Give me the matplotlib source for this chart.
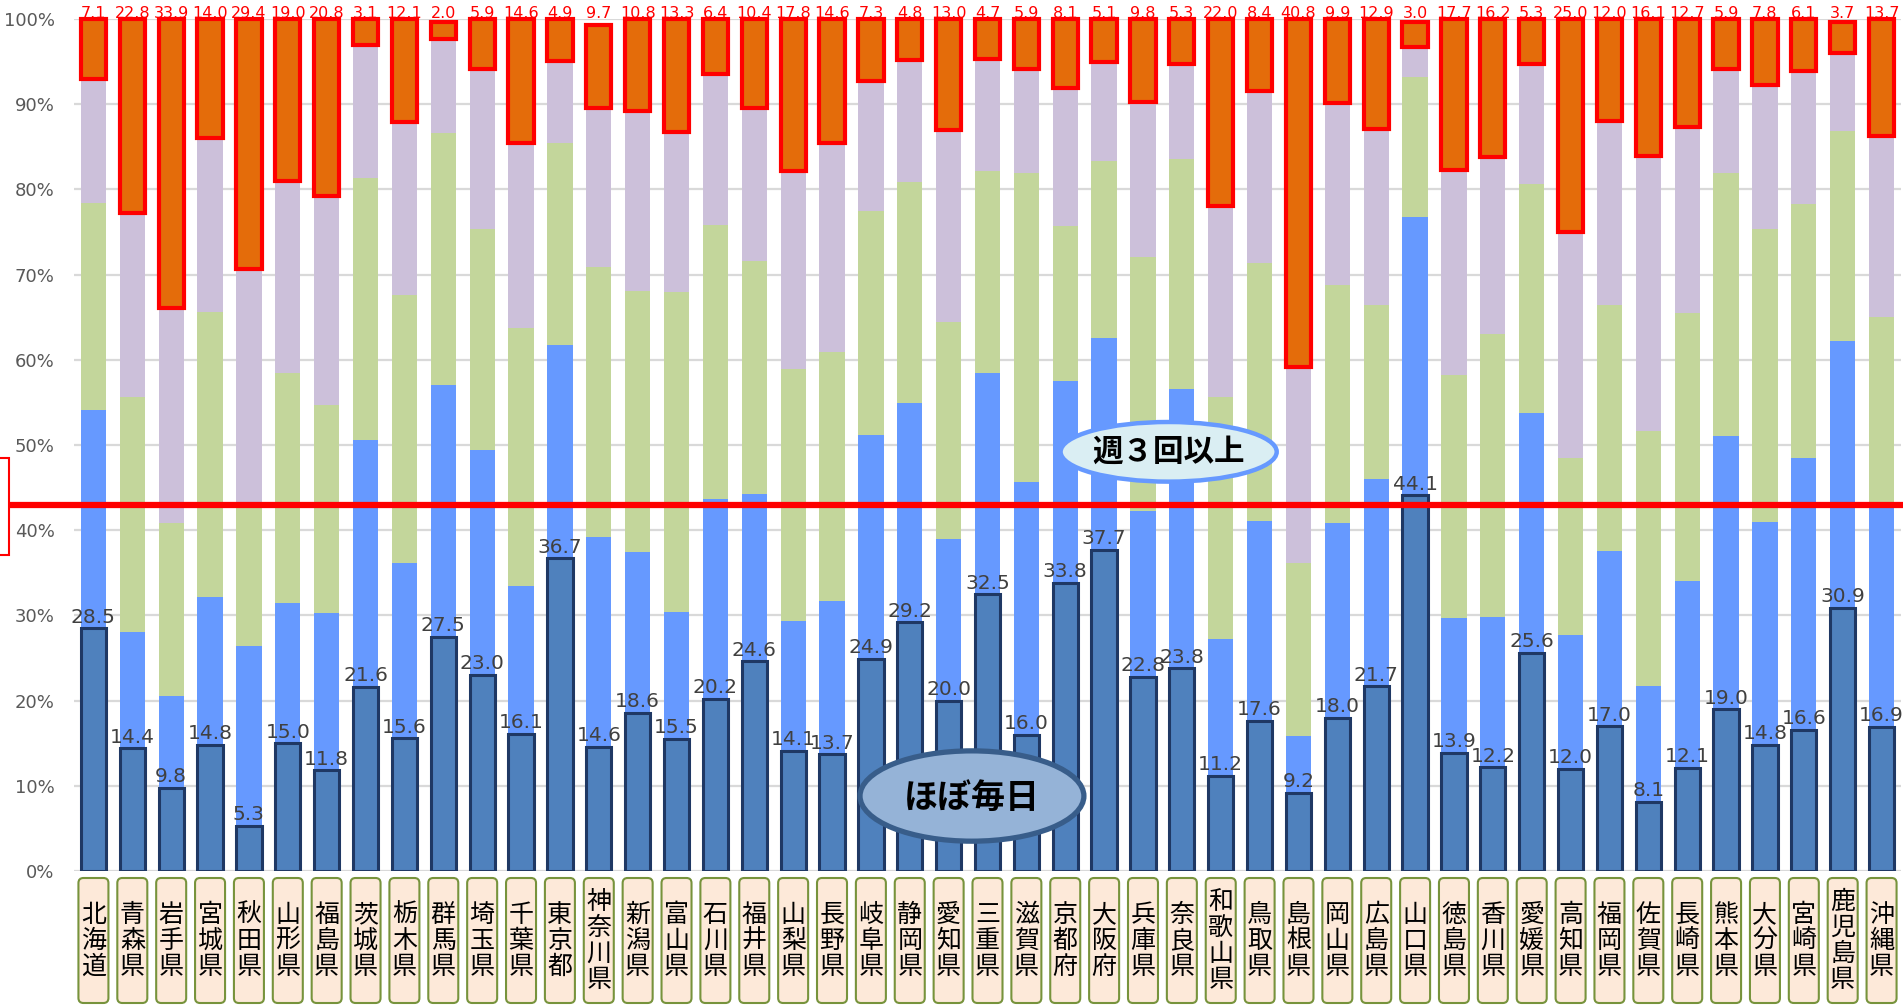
import matplotlib
matplotlib.use('Agg')
import matplotlib.pyplot as plt
from matplotlib.patches import FancyBboxPatch, Ellipse, Rectangle
from matplotlib.transforms import IdentityTransform, blended_transform_factory
import numpy as np

prefectures = ['北海道', '青森県', '岩手県', '宮城県', '秋田県', '山形県', '福島県', '茨城県', '栃木県', '群馬県',
               '埼玉県', '千葉県', '東京都', '神奈川県', '新潟県', '富山県', '石川県', '福井県', '山梨県', '長野県',
               '岐阜県', '静岡県', '愛知県', '三重県', '滋賀県', '京都府', '大阪府', '兵庫県', '奈良県', '和歌山県',
               '鳥取県', '島根県', '岡山県', '広島県', '山口県', '徳島県', '香川県', '愛媛県', '高知県', '福岡県',
               '佐賀県', '長崎県', '熊本県', '大分県', '宮崎県', '鹿児島県', '沖縄県']

# ほぼ毎日
daily = [28.5, 14.4, 9.8, 14.8, 5.3, 15.0, 11.8, 21.6, 15.6, 27.5,
         23.0, 16.1, 36.7, 14.6, 18.6, 15.5, 20.2, 24.6, 14.1, 13.7,
         24.9, 29.2, 20.0, 32.5, 16.0, 33.8, 37.7, 22.8, 23.8, 11.2,
         17.6, 9.2, 18.0, 21.7, 44.1, 13.9, 12.2, 25.6, 12.0, 17.0,
         8.1, 12.1, 19.0, 14.8, 16.6, 30.9, 16.9]
# 週3～4回程度 (estimated)
week34 = [25.6, 13.6, 10.7, 17.4, 21.1, 16.4, 18.5, 29.0, 20.5, 29.5,
          26.4, 17.4, 25.0, 24.6, 18.8, 14.9, 23.5, 19.6, 15.2, 18.0,
          26.3, 25.7, 19.0, 26.0, 29.6, 23.7, 24.9, 19.5, 32.8, 16.0,
          23.5, 6.6, 22.9, 24.3, 32.7, 15.8, 17.6, 28.2, 15.7, 20.6,
          13.6, 21.9, 32.1, 26.2, 31.9, 31.3, 25.9]
# 週1～2回程度 (estimated)
week12 = [24.3, 27.6, 20.4, 33.4, 16.6, 27.0, 24.4, 30.7, 31.5, 29.6,
          26.0, 30.2, 23.8, 31.7, 30.7, 37.6, 32.1, 27.4, 29.6, 29.2,
          26.3, 26.0, 25.4, 23.7, 36.3, 18.2, 20.7, 29.8, 27.0, 28.4,
          30.3, 20.4, 27.9, 20.4, 16.4, 28.5, 33.2, 26.8, 20.8, 28.8,
          29.9, 31.5, 30.8, 34.4, 29.8, 24.6, 22.2]
# 月に数回程度 (estimated)
monthly = [14.5, 21.6, 25.2, 20.4, 27.6, 22.6, 24.5, 15.6, 20.3, 11.0,
           18.7, 21.7, 9.6, 18.7, 21.1, 18.7, 17.8, 18.0, 23.3, 24.5,
           15.2, 14.3, 22.6, 13.1, 12.2, 16.2, 11.6, 18.1, 11.1, 22.4,
           20.2, 23.0, 21.3, 20.7, 3.5, 24.1, 20.8, 14.1, 26.5, 21.6,
           32.3, 21.8, 12.2, 16.8, 15.6, 9.2, 21.3]
# ほとんどない
rarely = [7.1, 22.8, 33.9, 14.0, 29.4, 19.0, 20.8, 3.1, 12.1, 2.0,
          5.9, 14.6, 4.9, 9.7, 10.8, 13.3, 6.4, 10.4, 17.8, 14.6,
          7.3, 4.8, 13.0, 4.7, 5.9, 8.1, 5.1, 9.8, 5.3, 22.0,
          8.4, 40.8, 9.9, 12.9, 3.0, 17.7, 16.2, 5.3, 25.0, 12.0,
          16.1, 12.7, 5.9, 7.8, 6.1, 3.7, 13.7]

avg_line = 43.0
ytick_vals = list(range(0, 101, 10))
ytick_labels = [f'{v}%' for v in ytick_vals]

W_PX, H_PX = 1903, 1005
fig = plt.figure(figsize=(W_PX / 100, H_PX / 100), dpi=100)
fig.patch.set_facecolor('white')
ax = fig.add_axes([74 / W_PX, 1 - 871 / H_PX, 1827 / W_PX, 852 / H_PX])

x = np.arange(len(prefectures))
d = np.array(daily); w34 = np.array(week34); w12 = np.array(week12)
m = np.array(monthly); r = np.array(rarely)
bw = 0.65

ax.bar(x, w34, bw, bottom=d, color='#6699FF', zorder=2)
ax.bar(x, w12, bw, bottom=d + w34, color='#C3D69B', zorder=2)
ax.bar(x, m, bw, bottom=d + w34 + w12, color='#CCC0DA', zorder=2)
ax.bar(x, d, bw, color='#4F81BD', edgecolor='#1F3864', linewidth=2.2, zorder=3)
ax.bar(x, r, bw, bottom=d + w34 + w12 + m, color='#E46C0A', edgecolor='#FF0000',
       linewidth=3.0, zorder=3, clip_on=False)

for i in x:
    ax.annotate(f'{daily[i]:.1f}', (i, daily[i]), xytext=(0, 4), textcoords='offset points',
                ha='center', va='baseline', fontsize=14.5, color='#404040', zorder=6,
                family='DejaVu Sans')
    ax.annotate(f'{rarely[i]:.1f}', (i, 100), xytext=(0, 0.5), textcoords='offset points',
                ha='center', va='baseline', fontsize=11.5, color='#FF0000', zorder=6,
                family='DejaVu Sans', annotation_clip=False)

ax.set_xlim(-0.5, len(prefectures) - 0.5)
ax.set_ylim(0, 100)
ax.set_yticks(ytick_vals)
ax.set_yticklabels(ytick_labels, fontsize=13, color='#595959')
ax.tick_params(axis='y', length=0, pad=14)
ax.set_xticks([])
for s in ax.spines.values():
    s.set_visible(False)
ax.yaxis.grid(True, color='#D9D9D9', linewidth=1.6)
ax.set_axisbelow(True)

# average line
ax.axhline(avg_line, xmin=-0.036, xmax=1.0, color='#FF0000', linewidth=4.5, zorder=4, clip_on=False)

# callouts
e1 = Ellipse((27.66, 49.2), 5.56, 7.0, facecolor='#DAEEF3', edgecolor='#6699FF', linewidth=3.2, zorder=7)
ax.add_patch(e1)
ax.text(27.66, 49.2, '週３回以上', ha='center', va='center', fontsize=22, fontweight='bold',
        family=['Noto Sans CJK JP', 'DejaVu Sans'], color='black', zorder=8)
e2 = Ellipse((22.6, 8.8), 5.76, 10.6, facecolor='#95B3D7', edgecolor='#385D8A', linewidth=3.8, zorder=7)
ax.add_patch(e2)
ax.text(22.6, 8.6, 'ほぼ毎日', ha='center', va='center', fontsize=24.5, fontweight='bold',
        family=['Noto Sans CJK JP', 'DejaVu Sans'], color='black', zorder=8)

# partially visible red box at the left edge
fig.add_artist(Rectangle((-10, H_PX - 555), 19, 97, transform=IdentityTransform(),
                         facecolor='white', edgecolor='#FF0000', linewidth=1.5))

# category label boxes
tr = blended_transform_factory(ax.transData, fig.transFigure)
for i, name in enumerate(prefectures):
    cx = ax.transData.transform((i, 0))[0]
    box = FancyBboxPatch((cx - 15, 2), 30, 125, boxstyle='round,pad=0,rounding_size=5',
                         transform=IdentityTransform(), facecolor='#FDE9D9',
                         edgecolor='#77933C', linewidth=1.5, zorder=2)
    fig.add_artist(box)
    fig.text(i, 1 - 941 / H_PX, '\n'.join(name), transform=tr, ha='center', va='center',
             fontsize=18, linespacing=1.0, family=['Noto Sans CJK JP', 'DejaVu Sans'],
             color='black', zorder=3)

fig.savefig('out.png', dpi=100)
